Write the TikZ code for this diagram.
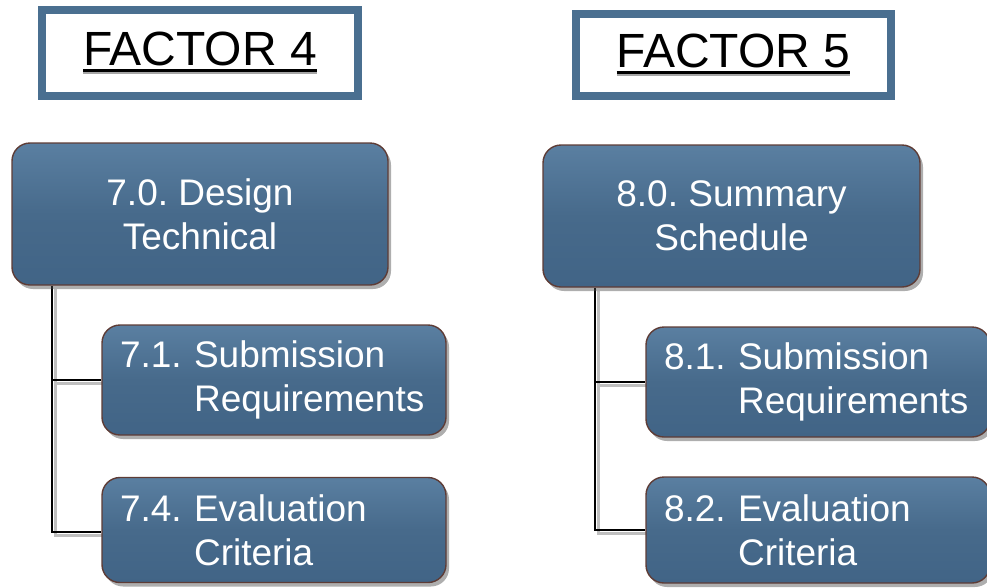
\documentclass[tikz,border=0pt]{standalone}
\usepackage{fontspec}
\setmainfont{Liberation Sans}
\usetikzlibrary{shadows,backgrounds}
\definecolor{boxtop}{HTML}{5A7FA1}
\definecolor{boxmid}{HTML}{476A8B}
\definecolor{boxbot}{HTML}{416486}
\definecolor{boxedge}{HTML}{5E3C36}
\definecolor{frameblue}{HTML}{4A6F90}
\newcommand{\myul}[1]{\setbox0\hbox{#1}\rlap{\color{black!35}\rule[-9pt]{\wd0}{3pt}}\rlap{\rule[-7pt]{\wd0}{3pt}}\box0}
\frenchspacing
\begin{document}
\begin{tikzpicture}[x=1pt,y=-1pt,
  bbox/.style={rounded corners=18pt, draw=boxedge, line width=1.4pt,
    top color=boxtop, bottom color=boxbot, middle color=boxmid,
    text=white, font=\fontsize{37}{44}\selectfont, inner sep=0pt,
    drop shadow={shadow xshift=3pt, shadow yshift=-4pt, opacity=0.45, fill=black!70}},
  lbox/.style={bbox, align=left, text width=308pt},
  fbox/.style={draw=frameblue, line width=8pt, fill=white, inner sep=0pt,
    font=\fontsize{48}{52}\selectfont, text=black,
    drop shadow={shadow xshift=3pt, shadow yshift=-4pt, opacity=0.35, fill=black!70}},
  link/.style={draw=black, line width=2.6pt}
]
\useasboundingbox (0,0) rectangle (987,587);

% factor frames
\node[fbox, minimum width=316pt, minimum height=86pt] (f4) at (200,53) {\myul{FACTOR 4}};
\node[fbox, minimum width=315pt, minimum height=82pt] (f5) at (733.5,55) {\myul{FACTOR 5}};

% left column
\node[bbox, align=center, minimum width=376pt, minimum height=142pt] (b70) at (200,214) {7.0. Design\\Technical};
\node[lbox, minimum width=344pt, minimum height=110pt] (b71) at (274,380) {7.1. Submission\\\phantom{7.1. }Requirements};
\node[lbox, minimum width=344pt, minimum height=105pt] (b74) at (274,530) {7.4. Evaluation\\\phantom{7.4. }Criteria};

% right column
\node[bbox, align=center, minimum width=377pt, minimum height=142pt] (b80) at (731.5,216) {8.0. Summary\\Schedule};
\node[lbox, minimum width=344pt, minimum height=110pt] (b81) at (818,382) {8.1. Submission\\\phantom{8.1. }Requirements};
\node[lbox, minimum width=344pt, minimum height=106pt] (b82) at (818,530) {8.2. Evaluation\\\phantom{8.2. }Criteria};

\coordinate (j7) at (52,532);
\coordinate (j8) at (595,530);

\begin{scope}[on background layer]
  \draw[link, draw=black!25, line width=3pt, transform canvas={xshift=3pt, yshift=-3pt}]
    (b70.south -| j7) -- (j7) -- (j7 -| b74.west)
    (j7 |- b71.west) -- (b71.west)
    (b80.south -| j8) -- (j8) -- (j8 -| b82.west)
    (j8 |- b81.west) -- (b81.west);
  \draw[link] (b70.south -| j7) -- (j7) -- (j7 -| b74.west);
  \draw[link] (j7 |- b71.west) -- (b71.west);
  \draw[link] (b80.south -| j8) -- (j8) -- (j8 -| b82.west);
  \draw[link] (j8 |- b81.west) -- (b81.west);
\end{scope}
\end{tikzpicture}
\end{document}
